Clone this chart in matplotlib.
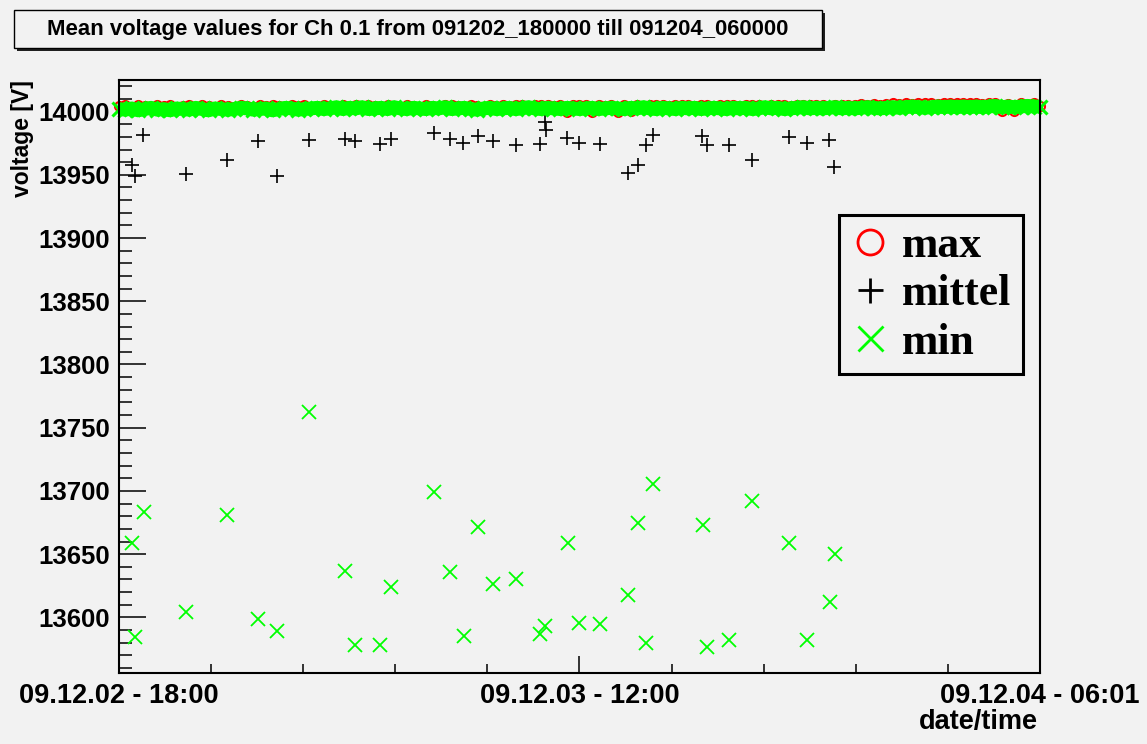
import numpy as np
import matplotlib
matplotlib.use("Agg")
import matplotlib.pyplot as plt
import matplotlib.dates as mdates
from matplotlib.lines import Line2D
from matplotlib.patches import Rectangle
from matplotlib.ticker import MultipleLocator, FixedLocator

# hours after 09.12.02 18:00
t_start = np.datetime64("2009-12-02T18:00")

# sparse readings where the channel dipped
mittel_hours = [0.50, 0.63, 0.95, 2.62, 4.24, 5.43, 6.17, 7.41, 8.84, 9.21, 10.21, 10.63,
                12.30, 12.95, 13.45, 14.02, 14.62, 15.53, 16.47, 16.64, 16.70, 17.52, 17.97,
                18.79, 19.89, 20.28, 20.58, 20.87, 22.80, 23.00, 23.84, 24.76, 26.19, 26.88,
                27.75, 27.95]
mittel_values = [13958.1, 13948.8, 13981.3, 13950.7, 13961.5, 13977.1, 13949.4, 13977.3,
                 13978.6, 13976.5, 13974.7, 13978.4, 13983.1, 13978.6, 13975.2, 13981.0,
                 13977.1, 13973.3, 13974.7, 13991.9, 13985.2, 13979.2, 13975.2, 13974.4,
                 13951.5, 13958.1, 13973.9, 13981.8, 13980.5, 13973.3, 13973.3, 13961.5,
                 13980.0, 13975.2, 13977.3, 13956.3]

min_hours = [0.50, 0.63, 0.99, 2.61, 4.24, 5.43, 6.17, 7.41, 8.84, 9.21, 10.21, 10.63,
             12.33, 12.95, 13.47, 14.02, 14.61, 15.52, 16.47, 16.67, 17.54, 17.97, 18.79,
             19.90, 20.28, 20.61, 20.87, 22.82, 23.00, 23.84, 24.76, 26.19, 26.88, 27.78,
             27.98]
min_values = [13658.8, 13584.4, 13683.0, 13603.9, 13681.2, 13598.9, 13588.9, 13762.1,
              13636.9, 13577.8, 13577.8, 13623.9, 13698.8, 13635.8, 13584.9, 13671.1,
              13626.6, 13630.5, 13587.0, 13592.8, 13658.8, 13595.5, 13594.7, 13617.9,
              13674.6, 13580.1, 13705.7, 13672.7, 13576.2, 13582.3, 13691.7, 13658.8,
              13582.3, 13611.8, 13650.1]

# regular quarter-hour readings forming the band near 14000 V
band_hours = [
    0.0, 0.25, 0.5, 0.75, 1.0, 1.25, 1.5, 1.75, 2.0, 2.25, 2.5, 2.75,
    3.0, 3.25, 3.5, 3.75, 4.0, 4.25, 4.5, 4.75, 5.0, 5.25, 5.5, 5.75,
    6.0, 6.25, 6.5, 6.75, 7.0, 7.25, 7.5, 7.75, 8.0, 8.25, 8.5, 8.75,
    9.0, 9.25, 9.5, 9.75, 10.0, 10.25, 10.5, 10.75, 11.0, 11.25, 11.5, 11.75,
    12.0, 12.25, 12.5, 12.75, 13.0, 13.25, 13.5, 13.75, 14.0, 14.25, 14.5, 14.75,
    15.0, 15.25, 15.5, 15.75, 16.0, 16.25, 16.5, 16.75, 17.0, 17.25, 17.5, 17.75,
    18.0, 18.25, 18.5, 18.75, 19.0, 19.25, 19.5, 19.75, 20.0, 20.25, 20.5, 20.75,
    21.0, 21.25, 21.5, 21.75, 22.0, 22.25, 22.5, 22.75, 23.0, 23.25, 23.5, 23.75,
    24.0, 24.25, 24.5, 24.75, 25.0, 25.25, 25.5, 25.75, 26.0, 26.25, 26.5, 26.75,
    27.0, 27.25, 27.5, 27.75, 28.0, 28.25, 28.5, 28.75, 29.0, 29.25, 29.5, 29.75,
    30.0, 30.25, 30.5, 30.75, 31.0, 31.25, 31.5, 31.75, 32.0, 32.25, 32.5, 32.75,
    33.0, 33.25, 33.5, 33.75, 34.0, 34.25, 34.5, 34.75, 35.0, 35.25, 35.5, 35.75,
    36.0]
band_min = [
    14002.0, 14001.5, 14002.5, 14001.0, 14002.0, 14003.0, 14001.5, 14002.0, 14001.0, 14002.5, 14002.0, 14001.5,
    14003.0, 14002.0, 14001.0, 14002.5, 14002.0, 14001.5, 14002.0, 14003.0, 14002.5, 14001.5, 14002.0, 14002.5,
    14001.0, 14002.0, 14003.0, 14002.5, 14001.5, 14002.0, 14002.5, 14003.0, 14002.0, 14002.5, 14003.5, 14002.0,
    14003.0, 14002.5, 14003.5, 14002.0, 14002.5, 14003.0, 14002.0, 14003.5, 14002.5, 14002.0, 14003.0, 14002.5,
    14002.0, 14003.0, 14002.5, 14003.5, 14002.0, 14002.5, 14003.0, 14002.0, 14001.5, 14002.5, 14003.0, 14002.0,
    14002.5, 14003.0, 14002.0, 14002.5, 14003.5, 14002.5, 14002.0, 14003.0, 14002.5, 14002.0, 14003.0, 14002.5,
    14002.0, 14002.5, 14003.0, 14002.0, 14002.5, 14003.0, 14002.5, 14002.0, 14003.0, 14002.5, 14003.5, 14002.5,
    14002.0, 14003.0, 14002.5, 14002.0, 14003.0, 14002.5, 14003.0, 14002.0, 14002.5, 14003.0, 14002.5, 14002.0,
    14003.0, 14002.5, 14003.0, 14002.0, 14002.5, 14003.5, 14002.5, 14003.0, 14002.0, 14002.5, 14003.0, 14003.5,
    14002.5, 14003.0, 14002.5, 14003.0, 14003.5, 14002.5, 14003.0, 14002.5, 14003.0, 14003.5, 14003.0, 14002.5,
    14003.0, 14003.5, 14003.0, 14003.5, 14004.0, 14003.5, 14003.0, 14003.5, 14004.0, 14003.5, 14004.0, 14003.5,
    14004.0, 14003.5, 14004.0, 14003.5, 14004.0, 14004.5, 14003.5, 14004.0, 14003.5, 14004.0, 14004.5, 14004.0,
    14004.0]
band_max = [
    14004.5, 14005.0, 14004.0, 14005.5, 14004.5, 14004.0, 14005.0, 14004.5, 14005.5, 14004.0, 14004.5, 14005.0,
    14004.0, 14005.0, 14004.5, 14004.0, 14005.5, 14004.5, 14004.0, 14005.0, 14004.5, 14004.0, 14005.0, 14004.5,
    14005.5, 14004.5, 14004.0, 14005.0, 14004.5, 14005.5, 14004.0, 14004.5, 14005.0, 14004.5, 14004.0, 14005.0,
    14004.5, 14005.0, 14004.0, 14005.5, 14004.5, 14004.0, 14005.0, 14004.5, 14004.0, 14005.0, 14004.5, 14004.0,
    14005.0, 14004.5, 14004.0, 14005.0, 14005.5, 14004.5, 14004.0, 14005.0, 14004.5, 14004.0, 14005.5, 14004.5,
    14005.0, 14004.5, 14005.5, 14005.0, 14004.5, 14005.0, 14005.5, 14005.0, 14004.5, 14005.0, 14000.0, 14005.0,
    14005.5, 14005.0, 14000.0, 14005.0, 14004.5, 14005.0, 14000.0, 14005.0, 14000.5, 14005.0, 14004.5, 14005.0,
    14005.5, 14005.0, 14004.5, 14005.0, 14005.5, 14005.0, 14004.5, 14005.5, 14005.0, 14004.5, 14005.0, 14005.5,
    14005.0, 14004.5, 14005.0, 14005.5, 14005.0, 14004.5, 14005.0, 14005.5, 14005.0, 14004.5, 14005.0, 14005.5,
    14005.0, 14005.5, 14005.0, 14004.5, 14005.0, 14005.5, 14005.0, 14005.5, 14006.0, 14005.5, 14006.0, 14005.5,
    14006.0, 14006.5, 14006.0, 14006.5, 14006.0, 14006.5, 14007.0, 14006.5, 14006.0, 14006.5, 14007.0, 14006.5,
    14006.5, 14007.0, 14006.5, 14006.0, 14006.5, 14007.0, 14000.5, 14006.0, 14000.5, 14006.5, 14006.0, 14006.5,
    14004.5]

x_tick_labels = ["09.12.02 - 18:00", "09.12.03 - 12:00", "09.12.04 - 06:01"]
title = "Mean voltage values for Ch 0.1 from 091202_180000 till 091204_060000"


def to_time(hours):
    return t_start + (np.array(hours) * 3600).astype("timedelta64[s]")


bg = "#f2f2f2"
sans = "Liberation Sans"
fig = plt.figure(figsize=(11.47, 7.44), dpi=100, facecolor=bg)
ax = fig.add_axes([0.10375, 0.09543, 0.80296, 0.79704], facecolor=bg)

red = "#ff0000"
green = "#00ff00"

# draw order: max, mittel, min (min on top)
ax.plot(to_time(band_hours), band_max, ls="none", marker="o", mfc="none", mec=red,
        ms=6.5, mew=1.5, clip_on=False)
ax.plot(to_time(mittel_hours), mittel_values, ls="none", marker="+", color="black",
        ms=9.5, mew=1.2, clip_on=False)
# the quarter-hour band is so dense that its markers merge into a solid strip
ax.plot(to_time(band_hours), band_min, ls="-", lw=10, marker="x", color=green,
        ms=10, mew=2.2, clip_on=False, solid_capstyle="butt")
ax.plot(to_time(min_hours), min_values, ls="none", marker="x", color=green,
        ms=9.5, mew=1.3, clip_on=False)

t_end = t_start + np.timedelta64(36, "h")
x0 = mdates.date2num(t_start)
x1 = mdates.date2num(t_end)
ax.set_xlim(x0, x1)
ax.set_ylim(13556, 14025)

ax.set_xticks([x0, (x0 + x1) / 2, x1], x_tick_labels)
ax.xaxis.set_minor_locator(FixedLocator(np.linspace(x0, x1, 11)))
ax.yaxis.set_major_locator(MultipleLocator(50))
ax.yaxis.set_minor_locator(MultipleLocator(10))

ax.tick_params(axis="y", which="major", direction="in", length=19.4, width=1.1,
               pad=6.5, labelsize=18.5, right=False)
ax.tick_params(axis="y", which="minor", direction="in", length=9.6, width=1.1, right=False)
ax.tick_params(axis="x", which="major", direction="in", length=12.2, width=1.1,
               pad=7, labelsize=19.5, top=False)
ax.tick_params(axis="x", which="minor", direction="in", length=6.5, width=1.1, top=False)
for lab in ax.get_xticklabels() + ax.get_yticklabels():
    lab.set_fontfamily(sans)
    lab.set_fontweight("bold")

for s in ax.spines.values():
    s.set_linewidth(1.5)
    s.set_color("black")

fig.text(22 / 1147, 1 - 80 / 744, "voltage [V]", rotation=90, ha="center", va="top",
         fontsize=16.5, fontweight="bold", fontfamily=sans)
fig.text(1038 / 1147, 1 - 722 / 744, "date/time", ha="right", va="center",
         fontsize=19.5, fontweight="bold", fontfamily=sans)

# title box with shadow
fig.patches.append(Rectangle((17 / 1147, 1 - 51 / 744), 808 / 1147, 38 / 744,
                             transform=fig.transFigure, facecolor="#202020",
                             edgecolor="none"))
fig.patches.append(Rectangle((14 / 1147, 1 - 48 / 744), 808 / 1147, 38 / 744,
                             transform=fig.transFigure, facecolor=bg,
                             edgecolor="black", linewidth=1))
fig.text(418 / 1147, 1 - 29 / 744, title, ha="center", va="center",
         fontsize=15.9, fontweight="bold", fontfamily=sans)

handles = [
    Line2D([], [], ls="none", marker="o", mfc="none", mec=red, ms=18, mew=2),
    Line2D([], [], ls="none", marker="+", color="black", ms=18, mew=2),
    Line2D([], [], ls="none", marker="x", color=green, ms=18, mew=2),
]
leg = ax.legend(handles, ["max", "mittel", "min"], loc="upper left",
                bbox_to_anchor=(839 / 1147, 1 - 373 / 744, 184 / 1147, 158 / 744),
                bbox_transform=fig.transFigure, mode="expand", borderaxespad=0,
                prop={"family": "Liberation Serif", "weight": "bold", "size": 31.5},
                handlelength=0.9, handletextpad=0.28, borderpad=0.25, labelspacing=0.19,
                fancybox=False, framealpha=1, facecolor=bg, edgecolor="black")
leg.get_frame().set_linewidth(2.2)

fig.savefig("out.png", dpi=100, facecolor=bg)
